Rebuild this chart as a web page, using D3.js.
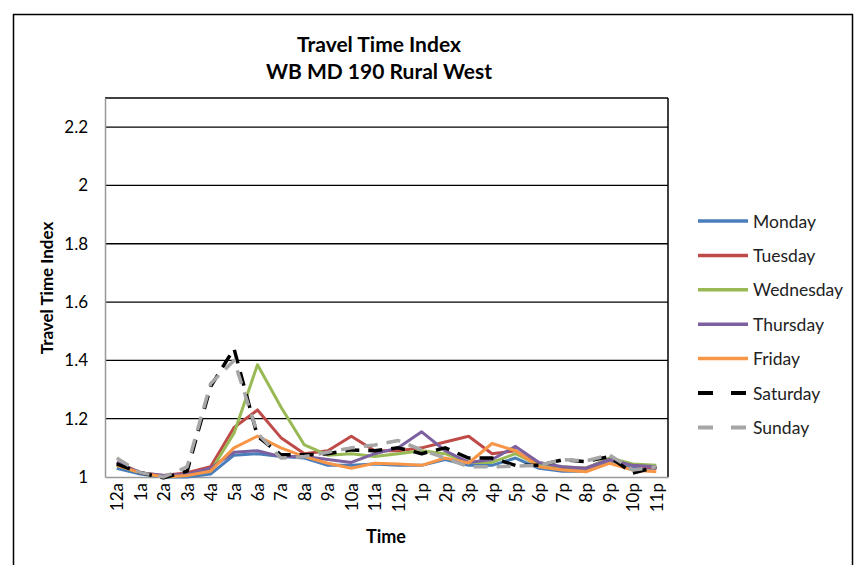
<!DOCTYPE html>
<html><head><meta charset="utf-8">
<script src="https://cdn.jsdelivr.net/npm/d3@7"></script>
<style>body{margin:0;background:#fff}svg{display:block}text{font-family:Lato,"Open Sans",sans-serif}</style>
</head><body>
<svg id="c" width="859" height="565"></svg>
<script>
const hours = ["12a","1a","2a","3a","4a","5a","6a","7a","8a","9a","10a","11a","12p","1p","2p","3p","4p","5p","6p","7p","8p","9p","10p","11p"];
const yTicks = [1, 1.2, 1.4, 1.6, 1.8, 2, 2.2];
const monday    = [1.03,1.01,1.0,1.0,1.01,1.075,1.08,1.07,1.065,1.04,1.04,1.045,1.04,1.04,1.06,1.04,1.04,1.065,1.03,1.02,1.02,1.05,1.03,1.03];
const tuesday   = [1.05,1.015,1.005,1.015,1.035,1.17,1.23,1.135,1.08,1.09,1.14,1.09,1.09,1.10,1.12,1.14,1.08,1.09,1.04,1.03,1.03,1.06,1.04,1.03];
const wednesday = [1.04,1.015,1.0,1.01,1.02,1.15,1.385,1.24,1.11,1.075,1.08,1.07,1.08,1.09,1.08,1.05,1.05,1.08,1.04,1.035,1.03,1.065,1.045,1.04];
const thursday  = [1.05,1.015,1.005,1.01,1.03,1.085,1.09,1.07,1.07,1.06,1.05,1.08,1.10,1.155,1.09,1.05,1.06,1.105,1.05,1.035,1.03,1.06,1.04,1.035];
const friday    = [1.04,1.015,1.0,1.005,1.02,1.10,1.14,1.10,1.07,1.047,1.03,1.047,1.045,1.04,1.065,1.048,1.115,1.09,1.035,1.024,1.018,1.047,1.024,1.018];
const saturday  = [1.045,1.015,0.997,1.02,1.31,1.44,1.14,1.076,1.076,1.08,1.093,1.09,1.10,1.08,1.10,1.065,1.065,1.04,1.04,1.059,1.053,1.07,1.013,1.035];
const sunday    = [1.065,1.015,1.0,1.035,1.32,1.40,1.15,1.065,1.07,1.085,1.10,1.11,1.125,1.093,1.065,1.035,1.035,1.037,1.04,1.06,1.055,1.076,1.024,1.035];
const seriesNames = ["Monday","Tuesday","Wednesday","Thursday","Friday","Saturday","Sunday"];
const seriesValues = [monday,tuesday,wednesday,thursday,friday,saturday,sunday];
const colors = ["#4A7EBB","#BE4B48","#98B954","#7D60A0","#F79646","#000000","#A6A6A6"];
const dashes = [null,null,null,null,null,"14,9","14,9"];

const svg = d3.select("#c");
// outer frame
svg.append("rect").attr("x",13.5).attr("y",14.5).attr("width",839).attr("height",600)
  .attr("fill","#fff").attr("stroke","#000").attr("stroke-width",1.5);

const L=105, R=668, T=98, B=477;
const x = d3.scaleBand().domain(hours).range([L,R]);
const y = d3.scaleLinear().domain([1,2.3]).range([B,T]);

// gridlines
svg.append("g").selectAll("line").data(yTicks.filter(d=>d>1)).join("line")
  .attr("x1",L).attr("x2",R).attr("y1",d=>y(d)).attr("y2",d=>y(d))
  .attr("stroke","#000").attr("stroke-width",1.3);
// plot border top/right
svg.append("line").attr("x1",L).attr("x2",R).attr("y1",T).attr("y2",T).attr("stroke","#000").attr("stroke-width",1.5);
svg.append("line").attr("x1",R).attr("x2",R).attr("y1",T).attr("y2",B).attr("stroke","#000").attr("stroke-width",1.5);

// y axis
const ya = svg.append("g").attr("transform",`translate(${L},0)`)
  .call(d3.axisLeft(y).tickValues(yTicks).tickSize(0).tickPadding(17).tickFormat(d=>String(d)));
ya.select(".domain").attr("stroke","#999").attr("stroke-width",1.5);
ya.selectAll("text").attr("font-size",17).attr("fill","#000");

// x axis
const xa = svg.append("g").attr("transform",`translate(0,${B})`)
  .call(d3.axisBottom(x).tickSize(0).tickPadding(0));
xa.select(".domain").attr("stroke","#999").attr("stroke-width",1.5);
xa.selectAll("text").attr("font-size",17).attr("fill","#000")
  .attr("text-anchor","end").attr("dy",null)
  .attr("transform","translate(0,6) rotate(-90)").attr("dominant-baseline","central").attr("y",0).attr("x",0);

// lines
const line = d3.line().x((d,i)=>x(hours[i])+x.bandwidth()/2).y(d=>y(d));
seriesValues.forEach((vals,k)=>{
  svg.append("path").datum(vals).attr("d",line).attr("fill","none")
    .attr("stroke",colors[k]).attr("stroke-width",k>=5?3.5:3)
    .attr("stroke-dasharray",dashes[k]).attr("stroke-linejoin","round");
});

// titles
svg.append("text").attr("x",379).attr("y",52).attr("text-anchor","middle")
  .attr("font-size",21).attr("font-weight","bold").text("Travel Time Index");
svg.append("text").attr("x",379).attr("y",79).attr("text-anchor","middle")
  .attr("font-size",21).attr("font-weight","bold").text("WB MD 190 Rural West");
svg.append("text").attr("transform","translate(53,288) rotate(-90)").attr("text-anchor","middle")
  .attr("font-size",17).attr("font-weight","bold").text("Travel Time Index");
svg.append("text").attr("x",386).attr("y",543).attr("text-anchor","middle")
  .attr("font-size",18).attr("font-weight","bold").text("Time");

// legend
const lg = svg.append("g");
seriesNames.forEach((n,k)=>{
  const yy = 221 + k*34.4;
  lg.append("line").attr("x1",698).attr("x2",748).attr("y1",yy).attr("y2",yy)
    .attr("stroke",colors[k]).attr("stroke-width",k>=5?4:3.5)
    .attr("stroke-dasharray",k>=5?"15,18":null);
  lg.append("text").attr("x",753).attr("y",yy).attr("dominant-baseline","central")
    .attr("font-size",17.5).attr("fill","#222").text(n);
});
</script>
</body></html>
